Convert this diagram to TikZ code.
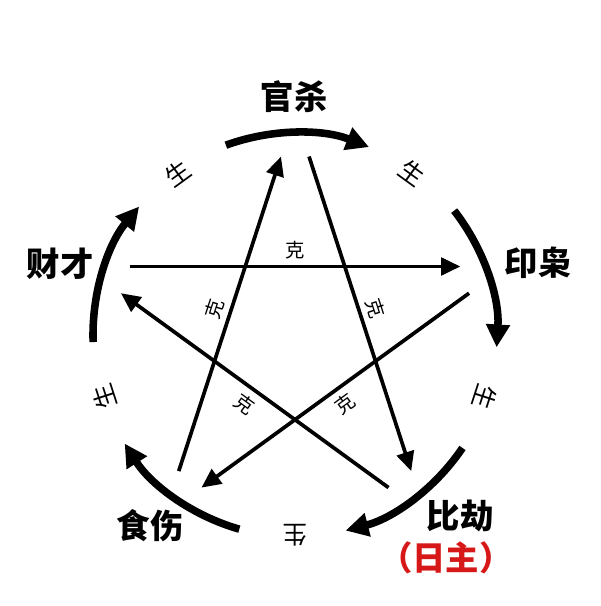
\documentclass[tikz,border=0pt]{standalone}
\usepackage{fontspec}
\newfontfamily\cjk{Noto Sans CJK SC}
\usetikzlibrary{arrows.meta,calc,positioning}
\definecolor{rizhu}{RGB}{214,24,24}

\begin{document}
\begin{tikzpicture}[x=0.02cm, y=0.02cm]
      \useasboundingbox (0,0) rectangle (600,606);
      \coordinate (O) at (295,271);
      % the five elements
      \begin{scope}[every node/.style={font=\cjk\bfseries\fontsize{19}{21}\selectfont, inner sep=0pt}]
        \node (G) at (294,509) {官杀};
        \node (Y) at (538,343) {印枭};
        \node (C) at (60,342) {财才};
        \node (S) at (150,80) {食伤};
        \node (B) at (460,90) {比劫};
        \node (R)[rizhu] [below=5pt of B, xshift=-8pt] {（日主）};
      \end{scope}
      % ends of the star lines
      \coordinate (Gi) at ($(O)+(94.5:179)$);
      \coordinate (Go) at ($(O)+(85.5:179)$);
      \coordinate (Yi) at ($(O)+(22.5:179)$);
      \coordinate (Yo) at ($(O)+(13.5:179)$);
      \coordinate (Bi) at ($(O)+(-49.5:179)$);
      \coordinate (Bo) at ($(O)+(-58.5:179)$);
      \coordinate (Si) at ($(O)+(-121.5:179)$);
      \coordinate (So) at ($(O)+(-130.5:179)$);
      \coordinate (Ci) at ($(O)+(166.5:179)$);
      \coordinate (Co) at ($(O)+(157.5:179)$);
      \begin{scope}
        [every edge/.style={draw= black, line width=2.1pt, -{Triangle[length=11pt,width=10pt]}}]
        \path (Go) edge (Bi);
        \path (Bo) edge (Ci);
        \path (Co) edge (Yi);
        \path (Yo) edge (Si);
        \path (So) edge (Gi);
      \end{scope}
      \begin{scope}[every node/.style={font=\cjk\fontsize{11}{12}\selectfont, inner sep=0pt}]
        \node (k1) [rotate=0] at ($(O)+(90:85)$) {克};
        \node (k2) [rotate=-72] at ($(O)+(18:85)$) {克};
        \node (k3) [rotate=36] at ($(O)+(-54:85)$) {克};
        \node (k4) [rotate=-36] at ($(O)+(-126:85)$) {克};
        \node (k5) [rotate=72] at ($(O)+(162:85)$) {克};
      \end{scope}
      % the outer ring
      \coordinate (aG) at ($(O)+(110:202)$);
      \coordinate (aY) at ($(O)+(38:202)$);
      \coordinate (aB) at ($(O)+(-34:202)$);
      \coordinate (aS) at ($(O)+(-106:202)$);
      \coordinate (aC) at ($(O)+(182:202)$);
      \begin{scope}[line width=4.3pt, -{Triangle[length=13pt,width=13pt]}]
        \draw (aG) arc[start angle=110, end angle=68.5, radius=202];
        \draw (aY) arc[start angle=38, end angle=-3.5, radius=202];
        \draw (aB) arc[start angle=-34, end angle=-75.5, radius=202];
        \draw (aS) arc[start angle=-106, end angle=-147.5, radius=202];
        \draw (aC) arc[start angle=182, end angle=140.5, radius=202];
      \end{scope}
      \begin{scope}[every node/.style={font=\cjk\fontsize{14}{15}\selectfont, inner sep=0pt}]
        \node (s1) [rotate=36] at ($(O)+(126:200)$) {生};
        \node (s2) [rotate=-36] at ($(O)+(54:200)$) {生};
        \node (s3) [rotate=-108] at ($(O)+(-18:200)$) {生};
        \node (s4) [rotate=180] at ($(O)+(-90:200)$) {生};
        \node (s5) [rotate=108] at ($(O)+(-162:200)$) {生};
      \end{scope}
    \end{tikzpicture}
\end{document}
